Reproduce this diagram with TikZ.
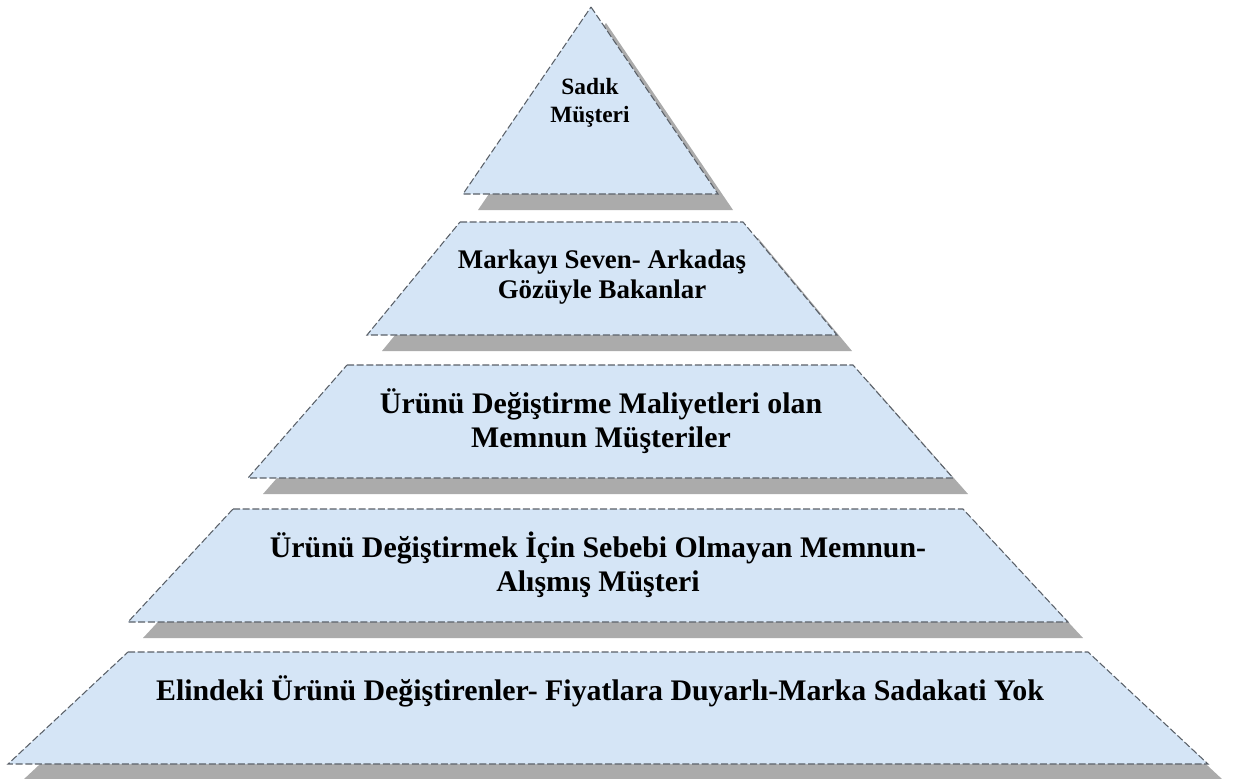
\documentclass[tikz,border=0pt]{standalone}
\usepackage{fontspec}
\setmainfont{Liberation Serif}
\usetikzlibrary{shadows, positioning}

\definecolor{tierblue}{HTML}{D5E5F6}
\definecolor{tieredge}{HTML}{5A6068}
\definecolor{shadowgray}{HTML}{ABABAB}

\begin{document}
\begin{tikzpicture}[x=0.02cm, y=-0.02cm]
 \tikzstyle{tier}=[draw=tieredge, line width=0.6pt, dash pattern=on 4pt off 1.5pt, fill=tierblue,
   drop shadow={shadow xshift=0.3cm, shadow yshift=-0.32cm, fill=shadowgray, opacity=1, draw=none}]
 \tikzstyle{lbl}=[align=center, font=\bfseries\fontsize{17}{19.4}\selectfont]
 \tikzstyle{midlbl}=[align=center, font=\bfseries\fontsize{15.3}{17.4}\selectfont]
 \tikzstyle{toplbl}=[align=center, font=\bfseries\fontsize{13.3}{15.6}\selectfont]

 \useasboundingbox (0,0) rectangle (1234,778);

 % top: sadik musteri
 \path[tier] (591,7) -- (718,194) -- (463,194) -- cycle;
 \node[toplbl] (sadik) at (590,103) {Sadık\\Müşteri};

 % second layer
 \path[tier] (460,222) -- (743,222) -- (837,335) -- (367,335) -- cycle;
 \node[midlbl] (seven) at (602,277) {Markayı Seven- Arkadaş\\Gözüyle Bakanlar};

 % third layer
 \path[tier] (347,365) -- (853,365) -- (953,478) -- (248,478) -- cycle;
 \node[lbl] (maliyet) at (601,421) {Ürünü Değiştirme Maliyetleri olan\\Memnun Müşteriler};

 % fourth layer
 \path[tier] (233,509) -- (963,509) -- (1068,622) -- (128,622) -- cycle;
 \node[lbl] (aliskin) at (598,565) {Ürünü Değiştirmek İçin Sebebi Olmayan Memnun-\\Alışmış Müşteri};

 % base layer
 \path[tier] (128,652) -- (1088,652) -- (1208,764) -- (8,764) -- cycle;
 \node[lbl] (degistiren) at (600,691) {Elindeki Ürünü Değiştirenler- Fiyatlara Duyarlı-Marka Sadakati Yok};

\end{tikzpicture}
\end{document}
